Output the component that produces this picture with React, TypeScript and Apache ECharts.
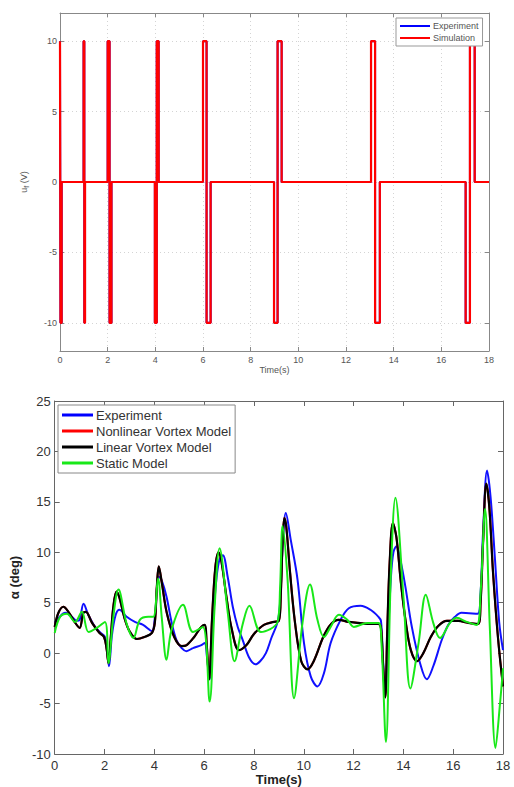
import React, { useEffect, useRef } from "react";
import * as echarts from "echarts";

// Flap command voltage u_f (V): vertices of the pulse train [t, u]
const ufSignal: [number, number][] = [
  [0, 10], [0.02, 10], [0.02, -10], [0.07, -10], [0.07, 0],
  [0.99, 0], [0.99, 10], [1.02, 10], [1.02, -10], [1.05, -10], [1.05, 0],
  [2.0, 0], [2.0, 10], [2.08, 10], [2.08, -10], [2.16, -10], [2.16, 0],
  [3.98, 0], [3.98, -10], [4.06, -10], [4.06, 10], [4.14, 10], [4.14, 0],
  [6.0, 0], [6.0, 10], [6.15, 10], [6.15, -10], [6.32, -10], [6.32, 0],
  [8.98, 0], [8.98, -10], [9.13, -10], [9.13, 10], [9.3, 10], [9.3, 0],
  [13.05, 0], [13.05, 10], [13.22, 10], [13.22, -10], [13.42, -10], [13.42, 0],
  [17.02, 0], [17.02, -10], [17.2, -10], [17.2, 10], [17.4, 10], [17.4, 0],
  [18, 0],
];
const ufExperiment = ufSignal;
const ufSimulation = ufSignal;

// Angle of attack alpha (deg) against time (s)
const alphaExperiment: [number, number][] = [
  [0, 3.0], [0.2, 3.6], [0.42, 4.0], [0.65, 3.7], [0.89, 3.2], [1.0, 3.3], [1.16, 4.9],
  [1.35, 3.8], [1.62, 2.6], [1.85, 2.0], [2.02, 1.6], [2.1, 0.3], [2.18, -1.3],
  [2.3, 1.8], [2.45, 3.8], [2.6, 4.3], [2.89, 3.6], [3.22, 3.1], [3.55, 2.8],
  [3.9, 2.2], [4.02, 3.5], [4.18, 7.6], [4.3, 7.2], [4.49, 5.6], [4.7, 3.0],
  [4.89, 1.3], [5.1, 0.5], [5.29, 0.2], [5.55, 0.5], [5.89, 0.8], [6.02, 1.0],
  [6.12, -0.5], [6.22, -2.6], [6.35, 3.0], [6.5, 7.5], [6.62, 9.3], [6.75, 9.7],
  [6.95, 7.5], [7.15, 4.6], [7.35, 2.6], [7.55, 1.3], [7.8, -0.4], [8.06, -1.1],
  [8.25, -0.8], [8.48, 0.0], [8.7, 1.5], [8.95, 3.1], [9.05, 5.0], [9.15, 10.5],
  [9.28, 13.9], [9.48, 11.2], [9.75, 7.3], [10.01, 1.0], [10.28, -2.3],
  [10.55, -3.3], [10.81, -2.0], [11.08, 1.0], [11.48, 3.3], [11.81, 4.45],
  [12.28, 4.7], [12.68, 4.3], [13.0, 3.6], [13.1, 3.2], [13.18, -0.5],
  [13.27, -4.2], [13.38, 1.5], [13.5, 7.5], [13.6, 10.0], [13.72, 10.6],
  [13.9, 9.0], [14.08, 6.6], [14.34, 2.6], [14.67, -1.0], [14.94, -2.6],
  [15.2, -1.3], [15.54, 1.3], [15.8, 2.8], [16.07, 3.6], [16.33, 4.0],
  [16.98, 3.9], [17.1, 6.0], [17.2, 12.0], [17.36, 18.1], [17.5, 15.5],
  [17.67, 9.6], [17.85, 3.0], [18, 0.3],
];

const alphaLinearVortex: [number, number][] = [
  [0, 2.6], [0.15, 4.0], [0.35, 4.6], [0.55, 4.1], [0.8, 3.1], [1.0, 2.5],
  [1.15, 4.0], [1.25, 4.1], [1.5, 3.0], [1.8, 2.0], [1.98, 1.6], [2.08, 0.5],
  [2.16, -1.0], [2.25, 1.5], [2.35, 4.5], [2.48, 6.1], [2.6, 5.5], [2.8, 3.5],
  [3.0, 2.2], [3.3, 1.4], [3.6, 1.6], [3.9, 2.0], [4.02, 3.0], [4.1, 6.5],
  [4.18, 8.6], [4.3, 7.0], [4.5, 4.0], [4.8, 1.6], [5.1, 0.7], [5.3, 0.8],
  [5.6, 1.6], [5.85, 2.5], [6.02, 2.8], [6.1, 1.0], [6.2, -2.6], [6.32, 3.5],
  [6.45, 8.5], [6.58, 10.0], [6.7, 9.0], [6.9, 5.5], [7.1, 2.5], [7.4, 0.3],
  [7.7, 0.8], [8.0, 1.9], [8.4, 2.8], [8.8, 3.1], [9.0, 3.2], [9.08, 6.0],
  [9.15, 11.0], [9.22, 13.4], [9.3, 12.5], [9.45, 8.0], [9.65, 3.0],
  [9.9, -0.8], [10.15, -1.6], [10.4, -0.8], [10.8, 1.7], [11.1, 2.9],
  [11.4, 3.3], [11.8, 3.1], [12.2, 3.0], [12.6, 2.9], [13.0, 2.9], [13.1, 2.5],
  [13.18, -1.0], [13.27, -4.4], [13.35, 2.0], [13.45, 9.0], [13.58, 12.9],
  [13.72, 11.5], [13.9, 7.0], [14.1, 3.0], [14.3, 0.3], [14.55, -0.8],
  [14.8, 0.0], [15.1, 1.6], [15.4, 2.7], [15.75, 3.2], [16.2, 3.2],
  [16.6, 3.0], [17.0, 2.9], [17.1, 5.0], [17.2, 11.0], [17.33, 16.8],
  [17.45, 14.5], [17.6, 8.0], [17.8, 1.5], [18.0, -3.3],
];
// The nonlinear vortex model coincides with the linear one on this record
const alphaNonlinearVortex = alphaLinearVortex;

const alphaStatic: [number, number][] = [
  [0, 2.0], [0.22, 3.6], [0.49, 3.9], [0.82, 3.1], [1.09, 4.1], [1.36, 2.1],
  [1.69, 2.5], [2.02, 3.1], [2.16, -1.0], [2.35, 3.5], [2.56, 6.3], [2.89, 2.9],
  [3.16, 1.5], [3.42, 3.3], [3.76, 3.6], [3.96, 3.6], [4.15, 7.4], [4.3, 3.5],
  [4.49, -0.66], [4.69, 2.3], [5.15, 4.8], [5.55, 2.1], [5.95, 2.6],
  [6.22, -4.8], [6.42, 4.5], [6.62, 10.4], [6.95, 4.0], [7.22, -0.8],
  [7.55, 2.9], [7.82, 4.7], [8.28, 2.1], [8.95, 3.1], [9.05, 6.5], [9.15, 12.6],
  [9.35, 7.3], [9.61, -4.46], [9.95, 3.0], [10.25, 6.8], [10.55, 3.3],
  [10.81, 1.6], [11.08, 2.6], [11.41, 3.8], [11.75, 3.3], [12.01, 2.6],
  [12.55, 3.0], [13.0, 3.0], [13.12, 1.0], [13.3, -8.8], [13.5, 8.0],
  [13.68, 15.4], [14.01, 5.3], [14.28, -3.5], [14.61, 1.0], [14.9, 5.8],
  [15.2, 3.0], [15.47, 1.5], [15.87, 3.0], [16.14, 3.5], [16.54, 3.1],
  [16.94, 2.8], [17.1, 6.0], [17.28, 14.3], [17.47, 2.6], [17.7, -9.4],
  [17.88, -5.0], [18, -1.5],
];

const ufTicks = [-10, -5, 0, 5, 10];

const FONT = "'Liberation Sans', Arial, Helvetica, sans-serif";

export default function App() {
  const ref = useRef<HTMLDivElement>(null);

  useEffect(() => {
    if (!ref.current) return;
    const chart = echarts.init(ref.current, undefined, { renderer: "svg" });

    const topLabel = { color: "#555", fontSize: 9, fontFamily: FONT };
    const botLabel = { color: "#333", fontSize: 13, fontFamily: FONT };
    const topLine = { show: true, onZero: false, lineStyle: { color: "#888", width: 1 } };
    const botLine = { show: true, onZero: false, lineStyle: { color: "#666", width: 1 } };
    const topGrid = { show: true, lineStyle: { color: "#d4d4d4", type: [1, 3] as any, width: 1 } };

    const option: any = {
      animation: false,
      backgroundColor: "#fff",
      grid: [
        { left: 60, top: 13, width: 429, height: 338 },
        { left: 53, top: 401, width: 450, height: 353 },
      ],
      xAxis: [
        {
          type: "value", gridIndex: 0, min: 0, max: 18, interval: 2,
          axisLine: topLine,
          axisTick: { inside: true, length: 4, lineStyle: { color: "#888" } },
          axisLabel: { ...topLabel, margin: 4 },
          splitLine: topGrid,
          name: "Time(s)", nameLocation: "middle", nameGap: 14,
          nameTextStyle: { color: "#555", fontSize: 9, fontFamily: FONT },
        },
        {
          type: "value", gridIndex: 0, position: "top", min: 0, max: 18, interval: 2,
          axisLine: topLine,
          axisTick: { inside: true, length: 4, lineStyle: { color: "#888" } },
          axisLabel: { show: false }, splitLine: { show: false },
        },
        {
          type: "value", gridIndex: 1, min: 0, max: 18, interval: 2,
          axisLine: botLine,
          axisTick: { inside: true, length: 5, lineStyle: { color: "#666" } },
          axisLabel: { ...botLabel, margin: 5 },
          splitLine: { show: false },
          name: "Time(s)", nameLocation: "middle", nameGap: 19,
          nameTextStyle: { color: "#222", fontSize: 13, fontWeight: "bold", fontFamily: FONT },
        },
        {
          type: "value", gridIndex: 1, position: "top", min: 0, max: 18, interval: 2,
          axisLine: botLine,
          axisTick: { inside: true, length: 5, lineStyle: { color: "#666" } },
          axisLabel: { show: false }, splitLine: { show: false },
        },
      ],
      yAxis: [
        {
          type: "value", gridIndex: 0, min: -12, max: 12,
          axisLine: topLine,
          axisTick: { inside: true, length: 4, customValues: ufTicks, lineStyle: { color: "#888" } },
          axisLabel: { ...topLabel, margin: 3, customValues: ufTicks },
          splitLine: topGrid,
          name: "{a|u}{b|f}{a| (V)}", nameLocation: "middle", nameGap: 30, nameRotate: 90,
          nameTextStyle: {
            color: "#555", fontFamily: FONT,
            rich: {
              a: { fontSize: 9, color: "#555", fontFamily: FONT },
              b: { fontSize: 7, color: "#555", fontFamily: FONT, padding: [5, 0, 0, 0] },
            },
          },
        },
        {
          type: "value", gridIndex: 0, position: "right", min: -12, max: 12,
          axisLine: topLine,
          axisTick: { inside: true, length: 4, customValues: ufTicks, lineStyle: { color: "#888" } },
          axisLabel: { show: false }, splitLine: { show: false },
        },
        {
          type: "value", gridIndex: 1, min: -10, max: 25, interval: 5,
          axisLine: botLine,
          axisTick: { inside: true, length: 5, lineStyle: { color: "#666" } },
          axisLabel: { ...botLabel, margin: 4 },
          splitLine: { show: false },
          name: "α (deg)", nameLocation: "middle", nameGap: 30, nameRotate: 90,
          nameTextStyle: { color: "#222", fontSize: 13, fontWeight: "bold", fontFamily: FONT },
        },
        {
          type: "value", gridIndex: 1, position: "right", min: -10, max: 25, interval: 5,
          axisLine: botLine,
          axisTick: { inside: true, length: 5, lineStyle: { color: "#666" } },
          axisLabel: { show: false }, splitLine: { show: false },
        },
      ],
      legend: [
        {
          data: ["Experiment", "Simulation"],
          orient: "vertical", left: 396, top: 18,
          icon: "rect",
          padding: [3, 4, 3, 4], itemGap: 2, itemWidth: 30, itemHeight: 2,
          backgroundColor: "#fff", borderColor: "#999", borderWidth: 1,
          textStyle: { color: "#555", fontSize: 9, lineHeight: 10, fontFamily: FONT, padding: [0, 0, 0, -2] },
          selectedMode: false,
        },
        {
          data: ["Experiment", "Nonlinear Vortex Model", "Linear Vortex Model", "Static Model"],
          orient: "vertical", left: 58, top: 405,
          icon: "rect",
          padding: [3, 4, 3, 4], itemGap: 2, itemWidth: 31, itemHeight: 3,
          backgroundColor: "#fff", borderColor: "#888", borderWidth: 1,
          textStyle: { color: "#333", fontSize: 13, lineHeight: 14, fontFamily: FONT, padding: [0, 0, 0, -2] },
          selectedMode: false,
        },
      ],
      series: [
        {
          name: "Experiment", type: "line", xAxisIndex: 0, yAxisIndex: 0,
          data: ufExperiment, symbol: "none", lineStyle: { color: "#0000ff", width: 2 },
          itemStyle: { color: "#0000ff" },
        },
        {
          name: "Simulation", type: "line", xAxisIndex: 0, yAxisIndex: 0,
          data: ufSimulation, symbol: "none", lineStyle: { color: "#ff0000", width: 2.2 },
          itemStyle: { color: "#ff0000" },
        },
        {
          name: "Experiment", type: "line", xAxisIndex: 2, yAxisIndex: 2,
          data: alphaExperiment, symbol: "none", smooth: 0.35,
          lineStyle: { color: "#1010ff", width: 2 }, itemStyle: { color: "#1010ff" },
        },
        {
          name: "Nonlinear Vortex Model", type: "line", xAxisIndex: 2, yAxisIndex: 2,
          data: alphaNonlinearVortex, symbol: "none", smooth: 0.35,
          lineStyle: { color: "#ff0000", width: 2 }, itemStyle: { color: "#ff0000" },
        },
        {
          name: "Linear Vortex Model", type: "line", xAxisIndex: 2, yAxisIndex: 2,
          data: alphaLinearVortex, symbol: "none", smooth: 0.35,
          lineStyle: { color: "#000000", width: 2.2 }, itemStyle: { color: "#000000" },
        },
        {
          name: "Static Model", type: "line", xAxisIndex: 2, yAxisIndex: 2,
          data: alphaStatic, symbol: "none", smooth: 0.35,
          lineStyle: { color: "#18e818", width: 2 }, itemStyle: { color: "#18e818" },
        },
      ],
    };

    chart.setOption(option);
    return () => chart.dispose();
  }, []);

  return (
    <div
      ref={ref}
      style={{ position: "fixed", left: 0, top: 0, width: 514, height: 787, background: "#fff" }}
    />
  );
}
